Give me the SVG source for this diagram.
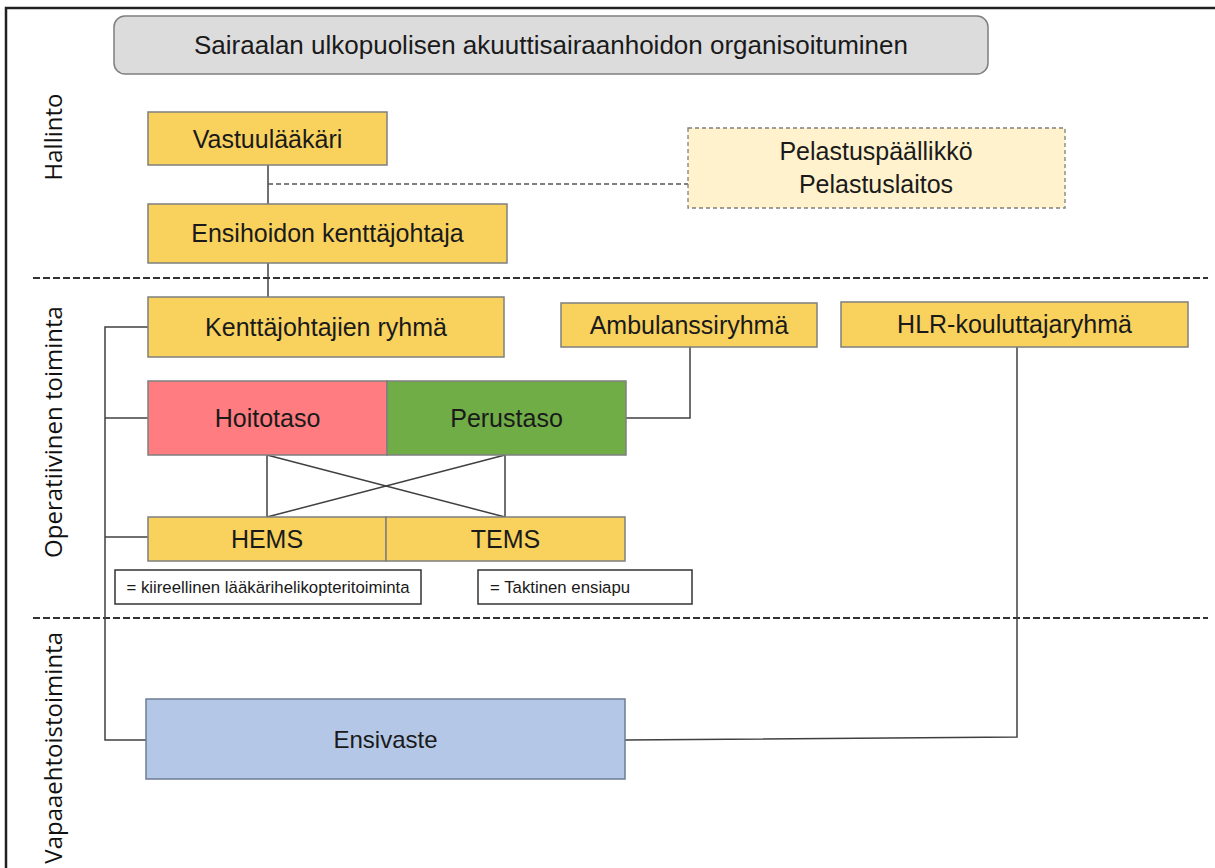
<svg xmlns="http://www.w3.org/2000/svg" width="1215" height="868" viewBox="0 0 1215 868">
<style>
  .t{font-family:"Liberation Sans",Arial,sans-serif;fill:#1a1a1a;text-anchor:middle}
  .big{font-size:25px}
  .sm{font-size:16.8px}
  .lab{font-family:"Open Sans","Noto Sans",sans-serif;font-size:24px;fill:#111}
  .y{fill:#f9d25e;stroke:#7f7f7f;stroke-width:1.5}
  .c{fill:none;stroke:#404040;stroke-width:1.5}
  .sep{fill:none;stroke:#333;stroke-width:2;stroke-dasharray:7 3}
</style>
<rect width="1215" height="868" fill="#fff"/>
<path d="M6,868 V8 H1215" fill="none" stroke="#222" stroke-width="2.5"/>

<g id="separators">
  <line class="sep" x1="33" y1="278" x2="1208" y2="278"/>
  <line class="sep" x1="33" y1="618" x2="1208" y2="618"/>
</g>

<g id="labels">
  <text class="lab" text-anchor="middle" transform="translate(62,137) rotate(-90)">Hallinto</text>
  <text class="lab" text-anchor="middle" transform="translate(62,432) rotate(-90)">Operatiivinen toiminta</text>
  <text class="lab" text-anchor="end" transform="translate(62,632) rotate(-90)">Vapaaehtoistoiminta</text>
</g>

<g id="connectors">
  <line class="c" x1="268" y1="165" x2="268" y2="204"/>
  <line class="c" x1="268" y1="263" x2="268" y2="297"/>
  <line x1="268" y1="184" x2="688" y2="184" stroke="#555" stroke-width="1.5" stroke-dasharray="5 3"/>
  <path class="c" d="M148,327 H105 V740 H146"/>
  <line class="c" x1="105" y1="418" x2="148" y2="418"/>
  <line class="c" x1="105" y1="537" x2="148" y2="537"/>
  <path class="c" d="M690,347 V418 H626"/>
  <path class="c" d="M1017,347 V737 L625,740"/>
  <line class="c" x1="267" y1="455" x2="267" y2="517"/>
  <line class="c" x1="505" y1="455" x2="505" y2="517"/>
  <line class="c" x1="267" y1="455" x2="505" y2="517"/>
  <line class="c" x1="505" y1="455" x2="267" y2="517"/>
</g>

<g id="title">
  <rect x="114" y="16" width="874" height="58" rx="11" fill="#dcdcdc" stroke="#7f7f7f" stroke-width="1.5"/>
  <text class="t" x="551" y="54" font-size="26">Sairaalan ulkopuolisen akuuttisairaanhoidon organisoituminen</text>
</g>

<g id="vastuulaakari">
  <rect class="y" x="148" y="112" width="239" height="53"/>
  <text class="t big" x="267.5" y="148">Vastuulääkäri</text>
</g>

<g id="pelastus">
  <rect x="688" y="128" width="377" height="80" fill="#fff2cc" stroke="#7f7f7f" stroke-width="1.3" stroke-dasharray="4 3"/>
  <text class="t big" x="876" y="160">Pelastuspäällikkö</text>
  <text class="t big" x="876" y="193">Pelastuslaitos</text>
</g>

<g id="kenttajohtaja">
  <rect class="y" x="148" y="204" width="359" height="59"/>
  <text class="t big" x="327.5" y="242">Ensihoidon kenttäjohtaja</text>
</g>

<g id="kenttajohtajien-ryhma">
  <rect class="y" x="148" y="297" width="356" height="60"/>
  <text class="t big" x="326" y="336">Kenttäjohtajien ryhmä</text>
</g>

<g id="ambulanssiryhma">
  <rect class="y" x="561" y="303" width="256" height="44"/>
  <text class="t big" x="689" y="334">Ambulanssiryhmä</text>
</g>

<g id="hlr">
  <rect class="y" x="841" y="302" width="347" height="45"/>
  <text class="t big" x="1014.5" y="333">HLR-kouluttajaryhmä</text>
</g>

<g id="hoitotaso">
  <rect x="148" y="381" width="239" height="74" fill="#ff7c80" stroke="#7f7f7f" stroke-width="1.5"/>
  <text class="t big" x="267.5" y="427">Hoitotaso</text>
</g>

<g id="perustaso">
  <rect x="387" y="381" width="239" height="74" fill="#70ad47" stroke="#7f7f7f" stroke-width="1.5"/>
  <text class="t big" x="506.5" y="427">Perustaso</text>
</g>

<g id="hems">
  <rect class="y" x="148" y="517" width="238" height="44"/>
  <text class="t big" x="267" y="548">HEMS</text>
</g>

<g id="tems">
  <rect class="y" x="386" y="517" width="239" height="44"/>
  <text class="t big" x="505.5" y="548">TEMS</text>
</g>

<g id="legend-hems">
  <rect x="115" y="570" width="306" height="34" fill="#fff" stroke="#333" stroke-width="1.5"/>
  <text class="t sm" x="268" y="593">= kiireellinen lääkärihelikopteritoiminta</text>
</g>

<g id="legend-tems">
  <rect x="478" y="570" width="214" height="34" fill="#fff" stroke="#333" stroke-width="1.5"/>
  <text class="t sm" x="490" y="593" style="text-anchor:start">= Taktinen ensiapu</text>
</g>

<g id="ensivaste">
  <rect x="146" y="699" width="479" height="80" fill="#b4c7e7" stroke="#6e7d93" stroke-width="1.5"/>
  <text class="t" x="385.5" y="748" font-size="24">Ensivaste</text>
</g>
</svg>
